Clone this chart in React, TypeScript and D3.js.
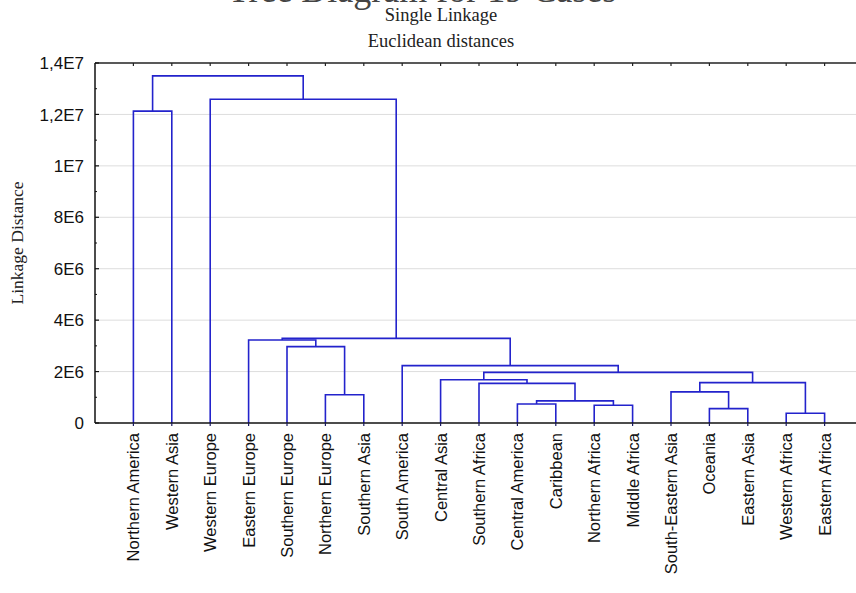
import React from "react";
import * as d3 from "d3";

// leaf order along the bottom axis
const leaves = [
  "Northern America", "Western Asia", "Western Europe", "Eastern Europe",
  "Southern Europe", "Northern Europe", "Southern Asia", "South America",
  "Central Asia", "Southern Africa", "Central America", "Caribbean",
  "Northern Africa", "Middle Africa", "South-Eastern Asia", "Oceania",
  "Eastern Asia", "Western Africa", "Eastern Africa",
];

// hclust-style merges: negative = leaf (1-based), positive = earlier merge (1-based)
const mergeA = [-18, -16, -13, -11, 4, -6, -15, -10, 7, -9, 10, -8, -5, -4, 14, -1, -3, 16];
const mergeB = [-19, -17, -14, -12, 3, -7, 2, 5, 1, 8, 9, 11, 6, 13, 12, -2, 15, 17];
const mergeHeight = [
  0.38e6, 0.56e6, 0.69e6, 0.74e6, 0.86e6, 1.1e6, 1.21e6, 1.54e6, 1.57e6,
  1.68e6, 1.97e6, 2.23e6, 2.97e6, 3.23e6, 3.29e6, 1.213e7, 1.259e7, 1.35e7,
];

const yTicks = [0, 2e6, 4e6, 6e6, 8e6, 1e7, 1.2e7, 1.4e7];
const yTickLabels = ["0", "2E6", "4E6", "6E6", "8E6", "1E7", "1,2E7", "1,4E7"];

const title = "Tree Diagram for 19 Cases";
const subtitle1 = "Single Linkage";
const subtitle2 = "Euclidean distances";
const yTitle = "Linkage Distance";

const W = 856;
const H = 593;
const left = 95;
const right = 863;
const top = 63;
const bottom = 423;
const blue = "#2323cc";

export default function App() {
  const x = d3.scalePoint<string>().domain(leaves).range([left, right]).padding(1);
  const y = d3.scaleLinear().domain([0, 1.4e7]).range([bottom, top]);

  const minor = d3.range(1e6, 1.4e7, 2e6);

  // positions of every merge node
  const nodes: { x: number; y: number }[] = [];
  const pos = (ref: number) =>
    ref < 0 ? { x: x(leaves[-ref - 1])!, y: y(0) } : nodes[ref - 1];
  const links: string[] = [];
  mergeA.forEach((a, i) => {
    const pa = pos(a);
    const pb = pos(mergeB[i]);
    const yy = y(mergeHeight[i]);
    nodes.push({ x: (pa.x + pb.x) / 2, y: yy });
    const p = d3.path();
    p.moveTo(pa.x, pa.y);
    p.lineTo(pa.x, yy);
    p.lineTo(pb.x, yy);
    p.lineTo(pb.x, pb.y);
    links.push(p.toString());
  });

  return (
    <svg width={W} height={H} style={{ position: "absolute", left: 0, top: 0, background: "#fff" }}>
      {/* main title is cropped at the top edge in the original */}
      <text x={422} y={1.5} textAnchor="middle" fontFamily="Liberation Serif" fontSize={36} fill="#444">
        {title}
      </text>
      <text x={441} y={21} textAnchor="middle" fontFamily="Liberation Serif" fontSize={18.5} fill="#222">
        {subtitle1}
      </text>
      <text x={441} y={47} textAnchor="middle" fontFamily="Liberation Serif" fontSize={18.5} fill="#222">
        {subtitle2}
      </text>

      {/* grid */}
      {yTicks.slice(1, -1).map((t) => (
        <line key={t} x1={left} x2={right} y1={y(t)} y2={y(t)} stroke="#dddddd" strokeWidth={1} />
      ))}

      {/* dendrogram */}
      {links.map((d, i) => (
        <path key={i} d={d} fill="none" stroke={blue} strokeWidth={1.6} />
      ))}

      {/* frame */}
      <line x1={left} x2={right} y1={top} y2={top} stroke="#222" strokeWidth={1.5} />
      <line x1={left} x2={right} y1={bottom} y2={bottom} stroke="#111" strokeWidth={1.5} />
      <line x1={left} x2={left} y1={top} y2={bottom} stroke="#111" strokeWidth={1.5} />

      {/* y ticks */}
      {yTicks.map((t, i) => (
        <g key={t}>
          <line x1={left} x2={left + 4} y1={y(t)} y2={y(t)} stroke="#111" strokeWidth={1.2} />
          <text x={84} y={y(t)} dy="0.36em" textAnchor="end" fontFamily="Liberation Sans" fontSize={17} fill="#111">
            {yTickLabels[i]}
          </text>
        </g>
      ))}
      {minor.map((t) => (
        <line key={t} x1={left} x2={left + 2} y1={y(t)} y2={y(t)} stroke="#111" strokeWidth={1} />
      ))}

      {/* x ticks and labels */}
      {leaves.map((l) => (
        <g key={l}>
          <line x1={x(l)} x2={x(l)} y1={top} y2={top + 3} stroke="#222" strokeWidth={1.2} />
          <line x1={x(l)} x2={x(l)} y1={bottom} y2={bottom + 3} stroke="#1a1a60" strokeWidth={1.2} />
          <text
            transform={`translate(${x(l)! + 6},433) rotate(-90)`}
            textAnchor="end"
            fontFamily="Liberation Sans"
            fontSize={16.5}
            fill="#111"
          >
            {l}
          </text>
        </g>
      ))}

      <text
        transform={`translate(23,${(top + bottom) / 2}) rotate(-90)`}
        textAnchor="middle"
        fontFamily="Liberation Serif"
        fontSize={17.5}
        fill="#222"
      >
        {yTitle}
      </text>
    </svg>
  );
}
